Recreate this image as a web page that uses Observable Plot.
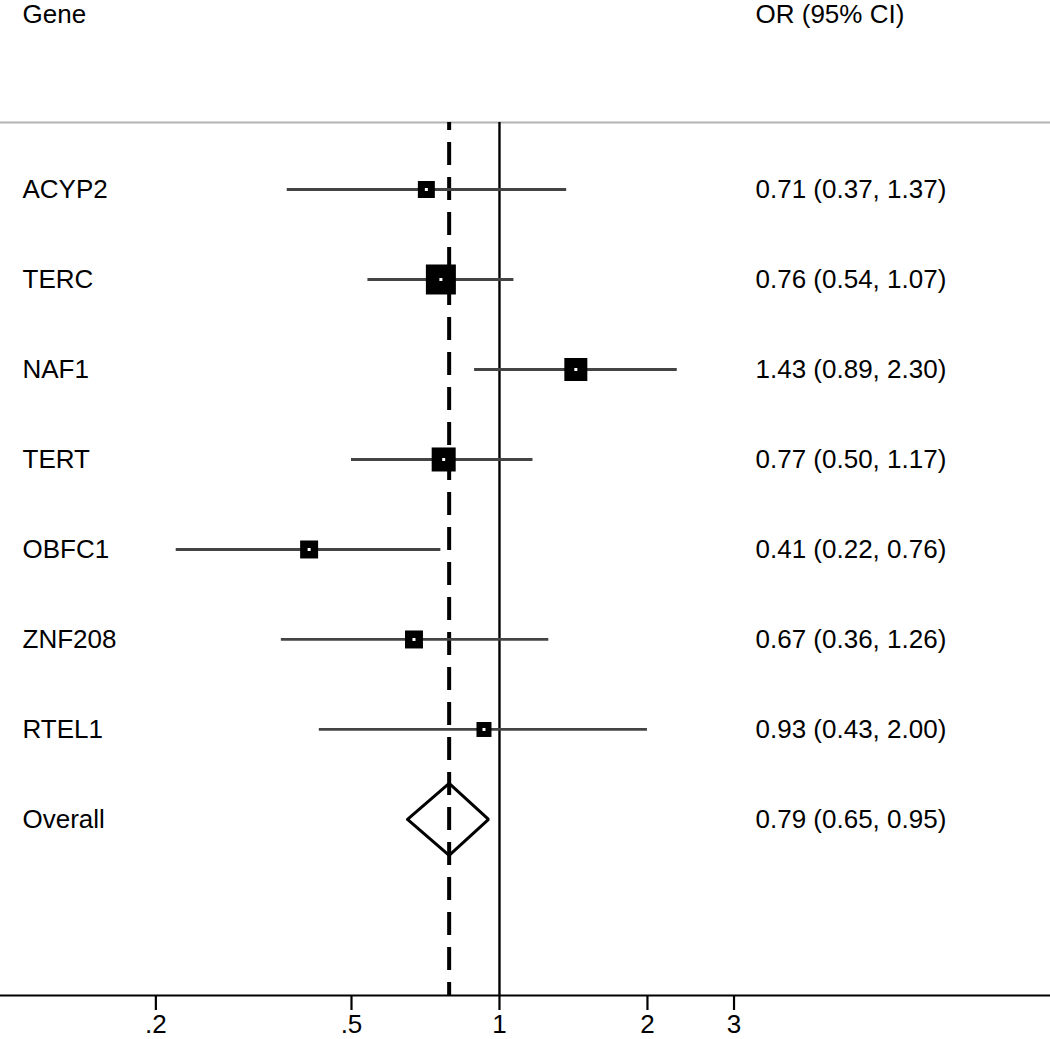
<!DOCTYPE html>
<html>
<head>
<meta charset="utf-8">
<script src="https://cdn.jsdelivr.net/npm/d3@7"></script>
<script src="https://cdn.jsdelivr.net/npm/@observablehq/plot@0.6"></script>
<style>
  html, body { margin: 0; padding: 0; background: #fff; }
  #chart svg { display: block; }
</style>
</head>
<body>
<div id="chart"></div>
<script>
// ---- data ----
const genes   = ["ACYP2", "TERC", "NAF1", "TERT", "OBFC1", "ZNF208", "RTEL1"];
const orVals  = [0.71, 0.76, 1.43, 0.77, 0.41, 0.67, 0.93];
const ciLow   = [0.37, 0.54, 0.89, 0.50, 0.22, 0.36, 0.43];
const ciHigh  = [1.37, 1.07, 2.30, 1.17, 0.76, 1.26, 2.00];
const weights = [9.1, 28.4, 16.7, 18.2, 10.2, 10.2, 7.1];
const overallLabel = "Overall";
const overallOR = 0.79, overallLow = 0.65, overallHigh = 0.95;
const xTicks = [0.2, 0.5, 1, 2, 3];
const headerLeft = "Gene", headerRight = "OR (95% CI)";

// ---- table built from the arrays ----
const fmt = v => v.toFixed(2);
const rows = genes.map((g, i) => ({
  gene: g, row: i, or: orVals[i], lo: ciLow[i], hi: ciHigh[i], w: weights[i],
  label: `${fmt(orVals[i])} (${fmt(ciLow[i])}, ${fmt(ciHigh[i])})`
}));
const overall = {
  gene: overallLabel, row: genes.length, or: overallOR, lo: overallLow, hi: overallHigh,
  label: `${fmt(overallOR)} (${fmt(overallLow)}, ${fmt(overallHigh)})`
};
const labelRows = [...rows, overall];
const dH = 0.4; // diamond half-height in rows
const diamond = [
  {x: overall.lo, y: overall.row},
  {x: overall.or, y: overall.row - dH},
  {x: overall.hi, y: overall.row},
  {x: overall.or, y: overall.row + dH},
  {x: overall.lo, y: overall.row}
];

// ---- layout ----
const W = 1050, H = 1039;
const yTop = -2.1, yBottom = 8.956, yRule = -0.744;
const font = "'Liberation Sans', Arial, Helvetica, sans-serif";
const fs = 26;

const chart = Plot.plot({
  width: W, height: H,
  marginTop: 0, marginBottom: 44, marginLeft: 0, marginRight: 0,
  style: { fontFamily: font, fontSize: fs + "px", color: "#000", background: "#fff" },
  x: { type: "log", domain: [0.0966, 13.21], axis: null },
  y: { domain: [yTop, yBottom], reverse: true, axis: null },
  r: { type: "sqrt", domain: [0, 28.4], range: [0, 30 / Math.sqrt(Math.PI)] },
  marks: [
    // top grey separator
    Plot.ruleY([yRule], { stroke: "#b4b4b4", strokeWidth: 2 }),
    // null line
    Plot.ruleX([1], { y1: yRule, y2: yBottom, stroke: "#000", strokeWidth: 2.4 }),
    // overall dashed line
    Plot.ruleX([overallOR], { y1: yRule, y2: yBottom, stroke: "#000", strokeWidth: 4,
      strokeDasharray: "23,12", strokeDashoffset: 15 }),
    // CIs
    Plot.ruleY(rows, { y: "row", x1: "lo", x2: "hi", stroke: "#444", strokeWidth: 2.8 }),
    // weighted squares
    Plot.dot(rows, { x: "or", y: "row", r: "w", symbol: "square", fill: "#000", stroke: "none" }),
    // centre marks
    Plot.dot(rows, { x: "or", y: "row", r: 1.7, symbol: "square", fill: "#fff", stroke: "none" }),
    // overall diamond
    Plot.line(diamond, { x: "x", y: "y", stroke: "#000", strokeWidth: 3, curve: "linear", strokeLinejoin: "miter" }),
    // labels
    Plot.text(labelRows, { y: "row", text: "gene", frameAnchor: "left", dx: 22, textAnchor: "start", fill: "#000", fontSize: fs }),
    Plot.text(labelRows, { y: "row", text: "label", frameAnchor: "left", dx: 755, textAnchor: "start", fill: "#000", fontSize: fs }),
    Plot.text([headerLeft], { frameAnchor: "top-left", dx: 22, dy: 14, textAnchor: "start", lineAnchor: "middle", fill: "#000", fontSize: fs }),
    Plot.text([headerRight], { frameAnchor: "top-left", dx: 755, dy: 14, textAnchor: "start", lineAnchor: "middle", fill: "#000", fontSize: fs }),
    // x axis
    Plot.ruleY([yBottom], { stroke: "#000", strokeWidth: 2 }),
    Plot.axisX({ ticks: xTicks, tickFormat: d => d < 1 ? String(d).replace(/^0/, "") : String(d),
      tickSize: 15, tickPadding: 4, strokeWidth: 2.2, strokeOpacity: 1, stroke: "#000", fill: "#000", fontSize: fs })
  ]
});
document.getElementById("chart").appendChild(chart);
</script>
</body>
</html>
